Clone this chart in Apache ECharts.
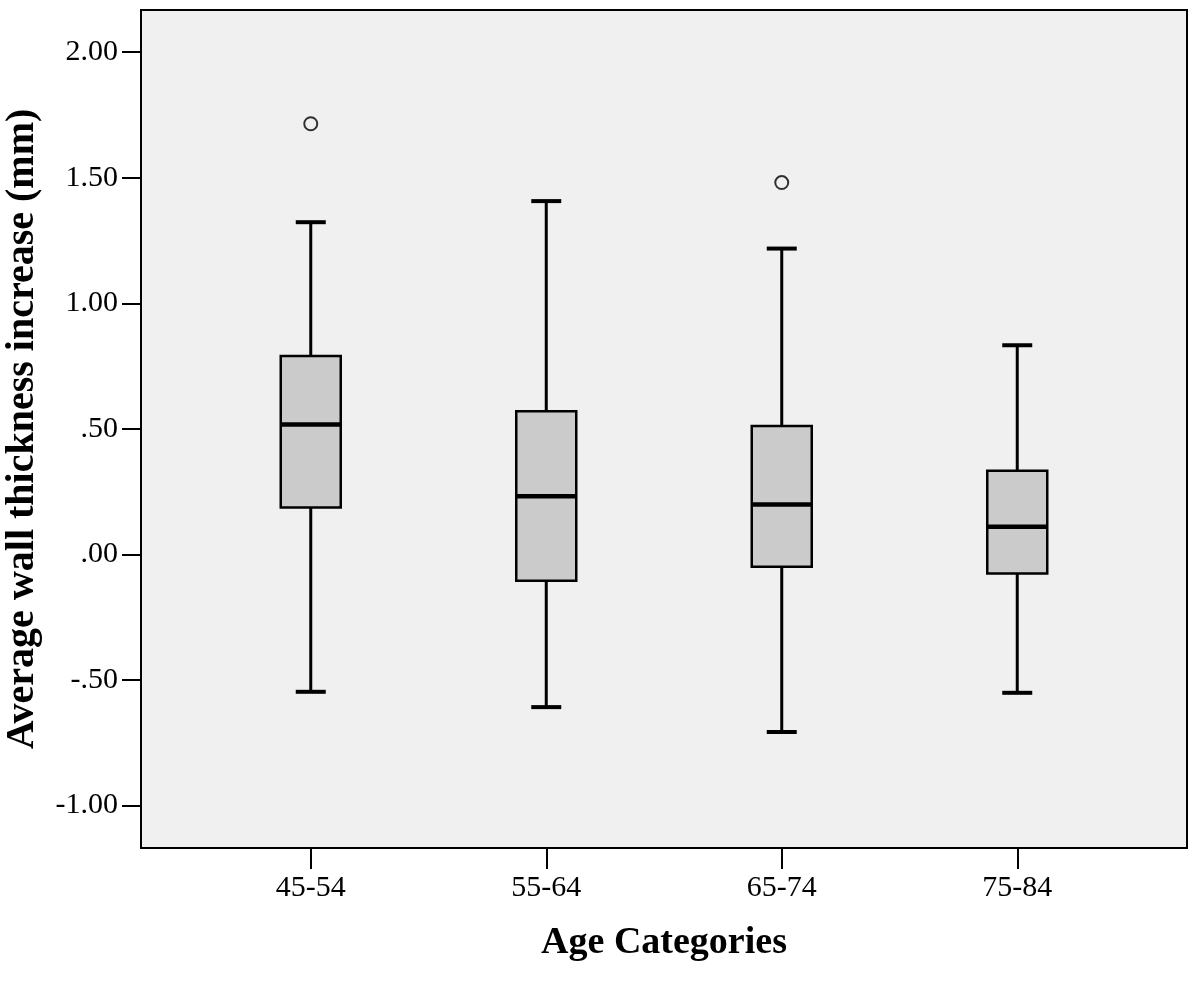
<!DOCTYPE html>
<html>
<head>
<meta charset="utf-8">
<script src="https://cdn.jsdelivr.net/npm/echarts@6/dist/echarts.min.js"></script>
<style>html,body{margin:0;padding:0;background:#fff}#c{width:1200px;height:984px}</style>
</head>
<body>
<div id="c"></div>
<script>
// Data
var categories = ['45-54', '55-64', '65-74', '75-84'];
var whiskerLow  = [-0.547, -0.608, -0.707, -0.551];
var q1          = [0.187, -0.105, -0.049, -0.076];
var median      = [0.517, 0.232, 0.199, 0.110];
var q3          = [0.790, 0.570, 0.511, 0.333];
var whiskerHigh = [1.323, 1.407, 1.218, 0.833];
var outlierCat  = ['45-54', '65-74'];
var outlierVal  = [1.715, 1.481];
var yTicks = [-1, -0.5, 0, 0.5, 1, 1.5, 2];

var boxData = categories.map(function (c, i) {
  return [i, whiskerLow[i], q1[i], median[i], q3[i], whiskerHigh[i]];
});
var outData = outlierCat.map(function (c, i) { return [c, outlierVal[i]]; });

function fmt(v) {
  var s = Math.abs(v).toFixed(2);
  if (s.charAt(0) === '0') s = s.substring(1);
  return (v < 0 ? '-' : '') + s;
}

var chart = echarts.init(document.getElementById('c'), null, {renderer: 'canvas'});
var FONT = '"Liberation Serif", "Times New Roman", serif';
chart.setOption({
  animation: false,
  backgroundColor: '#ffffff',
  graphic: [{
    type: 'rect', z: -10,
    shape: {x: 141, y: 10, width: 1046, height: 838},
    style: {fill: '#f0f0f0', stroke: '#000', lineWidth: 2}
  }],
  grid: {left: 193, right: 65, top: 10, bottom: 136, containLabel: false, outerBoundsMode: 'none'},
  xAxis: {
    type: 'category',
    data: categories,
    axisLine: {show: true, onZero: false, lineStyle: {color: '#000', width: 2}},
    axisTick: {show: true, alignWithLabel: true, length: 21, lineStyle: {color: '#000', width: 2}},
    axisLabel: {color: '#000', fontFamily: FONT, fontSize: 30, margin: 25},
    name: 'Age Categories',
    nameLocation: 'middle',
    nameGap: 76,
    nameTextStyle: {color: '#000', fontFamily: FONT, fontSize: 38, fontWeight: 'bold'},
    splitLine: {show: false}
  },
  yAxis: {
    type: 'value',
    min: -1.169, max: 2.168,
    offset: 52,
    axisLine: {show: false},
    axisTick: {show: true, length: 19, customValues: yTicks, lineStyle: {color: '#000', width: 2}},
    axisLabel: {color: '#000', fontFamily: FONT, fontSize: 30, margin: 23, customValues: yTicks, formatter: fmt},
    splitLine: {show: false},
    name: 'Average wall thickness increase (mm)',
    nameLocation: 'middle',
    nameGap: 98,
    nameTextStyle: {color: '#000', fontFamily: FONT, fontSize: 40, fontWeight: 'bold'}
  },
  series: [{
    type: 'custom',
    data: boxData,
    encode: {x: 0, y: [1, 2, 3, 4, 5]},
    renderItem: function (params, api) {
      var x = api.value(0);
      var pLow = api.coord([x, api.value(1)]);
      var pQ1 = api.coord([x, api.value(2)]);
      var pMed = api.coord([x, api.value(3)]);
      var pQ3 = api.coord([x, api.value(4)]);
      var pHigh = api.coord([x, api.value(5)]);
      var cx = pLow[0];
      var hw = 30, cw = 15;
      var lineStyle = {stroke: '#000', lineWidth: 3};
      return {
        type: 'group',
        children: [
          {type: 'line', shape: {x1: cx, y1: pHigh[1], x2: cx, y2: pQ3[1]}, style: lineStyle},
          {type: 'line', shape: {x1: cx, y1: pQ1[1], x2: cx, y2: pLow[1]}, style: lineStyle},
          {type: 'line', shape: {x1: cx - cw, y1: pHigh[1], x2: cx + cw, y2: pHigh[1]}, style: {stroke: '#000', lineWidth: 4}},
          {type: 'line', shape: {x1: cx - cw, y1: pLow[1], x2: cx + cw, y2: pLow[1]}, style: {stroke: '#000', lineWidth: 4}},
          {type: 'rect', shape: {x: cx - hw, y: pQ3[1], width: 2 * hw, height: pQ1[1] - pQ3[1]},
           style: {fill: '#cbcbcb', stroke: '#000', lineWidth: 2.5}},
          {type: 'line', shape: {x1: cx - hw, y1: pMed[1], x2: cx + hw, y2: pMed[1]}, style: {stroke: '#000', lineWidth: 4.5}}
        ]
      };
    }
  }, {
    type: 'scatter',
    data: outData,
    symbol: 'circle',
    symbolSize: 13,
    itemStyle: {color: '#f0f0f0', borderColor: '#000', borderWidth: 2},
    z: 5
  }]
});
</script>
</body>
</html>
